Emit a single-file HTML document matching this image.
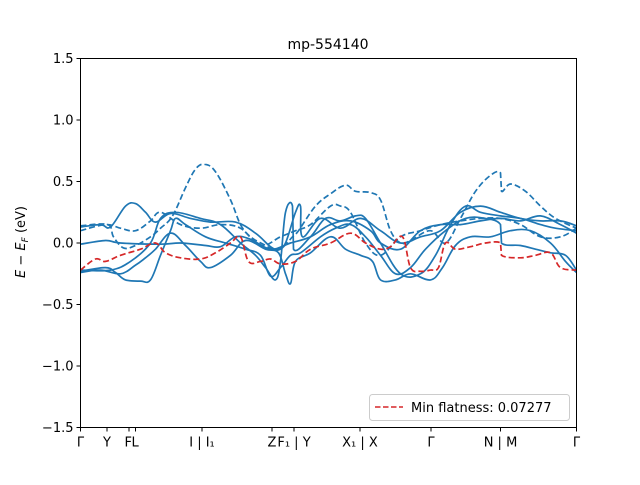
<!DOCTYPE html>
<html><head><meta charset="utf-8"><style>
body{margin:0;background:#fff}
svg text{font-family:"DejaVu Sans","Liberation Sans",sans-serif;font-size:13px;fill:#000}
</style></head><body>
<svg id="chart" width="640" height="480">
<rect width="640" height="480" fill="#fff"/>
<text x="328" y="49" text-anchor="middle" style="font-size:14px">mp-554140</text>
<g id="plot"></g>
<rect x="80.5" y="58.5" width="496" height="369" fill="none" stroke="#000" stroke-width="1"/>
<g id="yt"></g>
<g id="xt"></g>
<text transform="translate(25,242) rotate(-90)" text-anchor="middle"><tspan font-style="italic">E</tspan> − <tspan font-style="italic">E</tspan><tspan font-style="italic" font-size="9" dy="3">F</tspan><tspan dy="-3"> (eV)</tspan></text>
<g>
<rect x="369.5" y="394.5" width="200" height="26" rx="3" fill="#fff" stroke="#ccc"/>
<line x1="375" y1="407" x2="403" y2="407" stroke="#d62728" stroke-width="1.5" stroke-dasharray="5.5,2.5"/>
<text x="411" y="412">Min flatness: 0.07277</text>
</g>
</svg>
<script>
const yTicks=[-1.5,-1.0,-0.5,0.0,0.5,1.0,1.5];
const yTickLabels=["−1.5","−1.0","−0.5","0.0","0.5","1.0","1.5"];
const kTicks=[0,26.5,48.5,55,121.5,191.5,213.5,279.5,350.5,420,496];
const kLabels=["Γ","Y","F","L","I | I₁","Z","F₁ | Y","X₁ | X","Γ","N | M","Γ"];
const solid1=[[0,.13],[20,.15],[30,.13],[45,.3],[55,.32],[65,.25],[75,.17],[90,.24],[110,.2],[130,.17],[155,.17],[175,.08],[190,-.03],[198,-.05],[205,.0],[215,.25],[220,.3],[222,.05],[240,.2],[260,.12],[280,.2],[300,.1],[320,.0],[340,.05],[360,.1],[380,.25],[400,.3],[420,.25],[440,.2],[460,.18],[480,.18],[496,.14]];
const solid2=[[0,-.01],[25,.02],[40,.0],[80,-.01],[100,.0],[125,-.02],[140,-.03],[155,.05],[170,.03],[190,-.05],[210,.0],[230,.05],[250,.15],[270,.18],[290,.1],[300,.0],[320,-.05],[340,.1],[360,.15],[380,.15],[400,.18],[420,.2],[440,.18],[460,.22],[480,.15],[496,.08]];
const solid3=[[0,-.23],[25,-.2],[35,-.24],[45,-.3],[60,-.31],[70,-.3],[80,-.1],[90,.1],[95,.2],[105,.15],[125,.05],[145,.0],[165,-.05],[180,-.1],[190,-.27],[200,-.2],[210,-.1],[220,-.08],[240,.05],[255,.12],[270,.15],[285,.05],[300,-.1],[315,-.25],[330,-.2],[345,-.05],[365,.1],[385,.2],[405,.2],[420,.15],[421,.0],[440,-.02],[455,-.05],[470,-.08],[485,-.1],[496,-.22]];
const solid4=[[0,-.24],[20,-.22],[40,-.25],[55,-.18],[65,-.12],[75,-.05],[90,.08],[105,-.02],[120,-.15],[130,-.2],[150,-.1],[165,.02],[185,-.05],[198,-.08],[205,-.25],[210,-.33],[215,-.15],[230,-.08],[250,.05],[265,-.05],[280,-.1],[292,-.15],[300,-.3],[315,-.3],[330,-.25],[350,-.3],[362,-.2],[375,-.02],[390,.05],[410,.05],[430,.1],[450,.1],[470,.0],[485,-.15],[496,-.24]];
const solid5=[[0,-.22],[30,-.22],[50,-.15],[70,.0],[80,.2],[95,.25],[120,.2],[140,.15],[160,.0],[175,-.1],[185,-.2],[195,-.3],[200,-.15],[205,.25],[212,.3],[213,-.05],[230,.05],[245,.2],[260,.18],[275,.22],[285,.2],[300,.0],[320,-.25],[340,-.25],[355,-.1],[370,.15],[385,.3],[400,.25],[420,.22],[440,.2],[460,.15],[475,.12],[496,.1]];
const dashed1=[[0,.14],[27,.15],[33,.05],[43,-.04],[55,-.02],[70,.05],[80,.12],[92,.22],[105,.45],[115,.6],[124,.64],[135,.58],[150,.35],[160,.15],[170,.05],[185,-.02],[192,-.05],[200,-.05],[212,.05],[218,.1],[235,.3],[250,.4],[265,.47],[275,.42],[290,.41],[300,.35],[310,.1],[320,.0],[330,.02],[350,.1],[365,.0],[380,.2],[395,.42],[410,.55],[420,.57],[421,.42],[430,.48],[445,.42],[460,.3],[475,.2],[496,.12]];
const dashed2=[[0,.1],[25,.15],[40,.12],[55,.1],[70,.18],[80,.25],[100,.15],[120,.12],[140,.15],[160,.12],[180,-.02],[200,.05],[215,.1],[230,.15],[250,.3],[260,.3],[270,.25],[285,.0],[300,-.1],[320,.05],[340,.1],[360,.15],[380,.18],[400,.2],[420,.2],[440,.15],[460,.05],[480,.05],[496,.12]];
const flatBand=[[0,-.22],[15,-.13],[25,-.15],[40,-.1],[60,-.05],[75,.0],[85,-.08],[100,-.12],[120,-.13],[135,-.08],[150,.0],[160,.05],[168,-.15],[180,-.15],[190,-.13],[200,-.17],[215,-.15],[230,-.05],[250,.0],[270,.08],[285,.0],[300,-.05],[310,-.03],[322,.05],[330,-.2],[340,-.23],[350,-.22],[358,-.2],[365,.0],[375,-.05],[390,-.03],[405,.0],[420,.0],[421,-.1],[440,-.12],[455,-.1],[470,-.08],[480,-.2],[496,-.22]];

const NS="http://www.w3.org/2000/svg";
const X0=80.5,KMAX=496,W=496,Y0=58.5,H=369,EMIN=-1.5,EMAX=1.5;
const xs=k=>X0+k/KMAX*W;
const ys=e=>Y0+(EMAX-e)/(EMAX-EMIN)*H;
function mk(t,a){const e=document.createElementNS(NS,t);for(const k in a)e.setAttribute(k,a[k]);return e;}
const plot=document.getElementById('plot');
const clip=mk('clipPath',{id:'cp'});clip.appendChild(mk('rect',{x:X0,y:Y0,width:W,height:H}));plot.appendChild(clip);
function smoothPath(P){
  let d='M'+P[0][0].toFixed(1)+','+P[0][1].toFixed(1);
  for(let i=0;i<P.length-1;i++){
    const p0=P[Math.max(0,i-1)],p1=P[i],p2=P[i+1],p3=P[Math.min(P.length-1,i+2)];
    if(p2[0]-p1[0]<2){d+='L'+p2[0].toFixed(1)+','+p2[1].toFixed(1);continue;}
    const t=0.18;
    const c1x=p1[0]+(p2[0]-p0[0])*t,c1y=p1[1]+(p2[1]-p0[1])*t;
    const c2x=p2[0]-(p3[0]-p1[0])*t,c2y=p2[1]-(p3[1]-p1[1])*t;
    d+='C'+c1x.toFixed(1)+','+c1y.toFixed(1)+' '+c2x.toFixed(1)+','+c2y.toFixed(1)+' '+p2[0].toFixed(1)+','+p2[1].toFixed(1);
  }
  return d;
}
function draw(pts,color,dash,name){
  const P=pts.map(p=>[xs(p[0]),ys(p[1])]);
  const p=mk('path',{d:smoothPath(P),fill:'none',stroke:color,'stroke-width':1.7,'clip-path':'url(#cp)'});
  if(dash)p.setAttribute('stroke-dasharray',dash);
  
  
  plot.appendChild(p);
}
draw(solid1,'#1f77b4',null,'band-solid-1');
draw(solid2,'#1f77b4',null,'band-solid-2');
draw(solid3,'#1f77b4',null,'band-solid-3');
draw(solid4,'#1f77b4',null,'band-solid-4');
draw(solid5,'#1f77b4',null,'band-solid-5');
draw(dashed1,'#1f77b4','6,3','band-dashed-1');
draw(dashed2,'#1f77b4','6,3','band-dashed-2');
draw(flatBand,'#d62728','6,3','flat-band');
const yt=document.getElementById('yt');
yTicks.forEach((v,i)=>{
  const y=ys(v);
  const l=mk('line',{x1:X0-4,x2:X0,y1:y,y2:y,stroke:'#000'});
  
  
  yt.appendChild(l);
  const t=mk('text',{x:X0-7,y:y+4.5,'text-anchor':'end'});t.textContent=yTickLabels[i];
  
  
  yt.appendChild(t);
});
const xt=document.getElementById('xt');
kTicks.forEach((k,i)=>{
  const x=xs(k);
  const l=mk('line',{x1:x,x2:x,y1:Y0+H,y2:Y0+H+4,stroke:'#000'});
  
  
  xt.appendChild(l);
  const t=mk('text',{x:x,y:Y0+H+19,'text-anchor':i==2?'end':(i==3?'start':'middle')});
  if(i==2)t.setAttribute('x',x+3);
  if(i==3)t.setAttribute('x',x-4);
  t.textContent=kLabels[i];
  
  
  xt.appendChild(t);
});
</script>
</body></html>
